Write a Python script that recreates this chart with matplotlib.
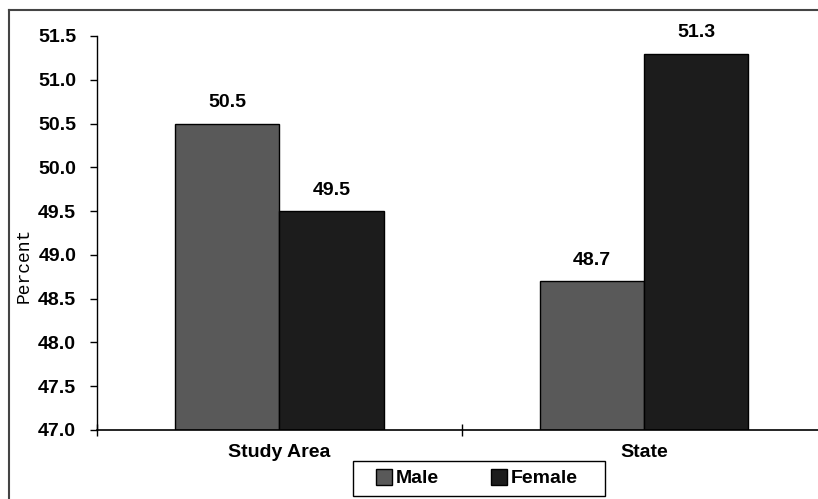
import matplotlib
matplotlib.use("Agg")
import matplotlib.pyplot as plt
import numpy as np
from matplotlib.lines import Line2D
from matplotlib.patches import Rectangle

categories = ["Study Area", "State"]
series_names = ["Male", "Female"]
male = [50.5, 48.7]
female = [49.5, 51.3]
y_ticks = [47.0, 47.5, 48.0, 48.5, 49.0, 49.5, 50.0, 50.5, 51.0, 51.5]

colors = ["#595959", "#1c1c1c"]
bold_font = "Liberation Sans"
fs = 14
W, H = 818, 499

fig = plt.figure(figsize=(W / 100, H / 100), dpi=100)
ax = fig.add_axes([97 / W, 1 - 430 / H, 1 - 97 / W + 0.01, (430 - 36) / H])

x = np.arange(len(categories))
width = 0.286
for i, (vals, name, col) in enumerate(zip([male, female], series_names, colors)):
    pos = x + (i - 0.5) * width
    ax.bar(pos, np.array(vals) - 47.0, width, bottom=47.0, color=col,
           edgecolor="black", linewidth=1.0, label=name)
    for xp, v in zip(pos, vals):
        ax.annotate(f"{v:.1f}", (xp, v), xytext=(0, 9), textcoords="offset points",
                    ha="center", va="bottom", fontsize=fs, fontweight="bold",
                    family=bold_font)

ax.set_xlim(-0.5, 1.5)
ax.set_ylim(47.0, 51.5)
ax.set_yticks(y_ticks)
ax.set_yticklabels([f"{t:.1f}" for t in y_ticks], fontsize=fs, fontweight="bold",
                   family=bold_font)
ax.tick_params(axis="y", direction="out", length=5, width=1, pad=10)

# boundary tick between the categories, labels at the centres
ax.set_xticks([-0.5, 0.5, 1.5])
ax.set_xticklabels([])
ax.tick_params(axis="x", which="major", direction="inout", length=8, width=1)
ax.set_xticks(x, minor=True)
ax.set_xticklabels(categories, minor=True, fontsize=fs, fontweight="bold",
                   family=bold_font)
ax.tick_params(axis="x", which="minor", length=0, pad=10)

for s in ["top", "right"]:
    ax.spines[s].set_visible(False)
ax.spines["left"].set_linewidth(1.0)
ax.spines["bottom"].set_linewidth(1.2)

fig.text(24 / W, 1 - 265 / H, "Percent", rotation=90, ha="center", va="center",
         fontsize=13, family="Liberation Mono")

# legend entries with a separately drawn box
handles = [Line2D([0], [0], marker="s", linestyle="none", markersize=11,
                  markerfacecolor=c, markeredgecolor="black") for c in colors]
leg = fig.legend(handles, series_names, loc="center",
                 bbox_to_anchor=(476 / W, 1 - 478.5 / H), ncol=2,
                 frameon=False,
                 prop={"family": bold_font, "weight": "bold", "size": fs},
                 handletextpad=0.1, columnspacing=2.6, handlelength=1.0,
                 borderpad=0.3, borderaxespad=0)
fig.add_artist(Rectangle((353 / W, 1 - 496 / H), (605 - 353) / W, (496 - 461) / H,
                         transform=fig.transFigure, facecolor="none",
                         edgecolor="black", linewidth=1.0))

# outer frame of the figure
fig.add_artist(Line2D([9 / W, 9 / W], [0, 1 - 10 / H], color="#444444",
                      linewidth=1.5, transform=fig.transFigure))
fig.add_artist(Line2D([9 / W, 1], [1 - 10 / H, 1 - 10 / H], color="#444444",
                      linewidth=1.5, transform=fig.transFigure))

fig.savefig("out.png", dpi=100)
